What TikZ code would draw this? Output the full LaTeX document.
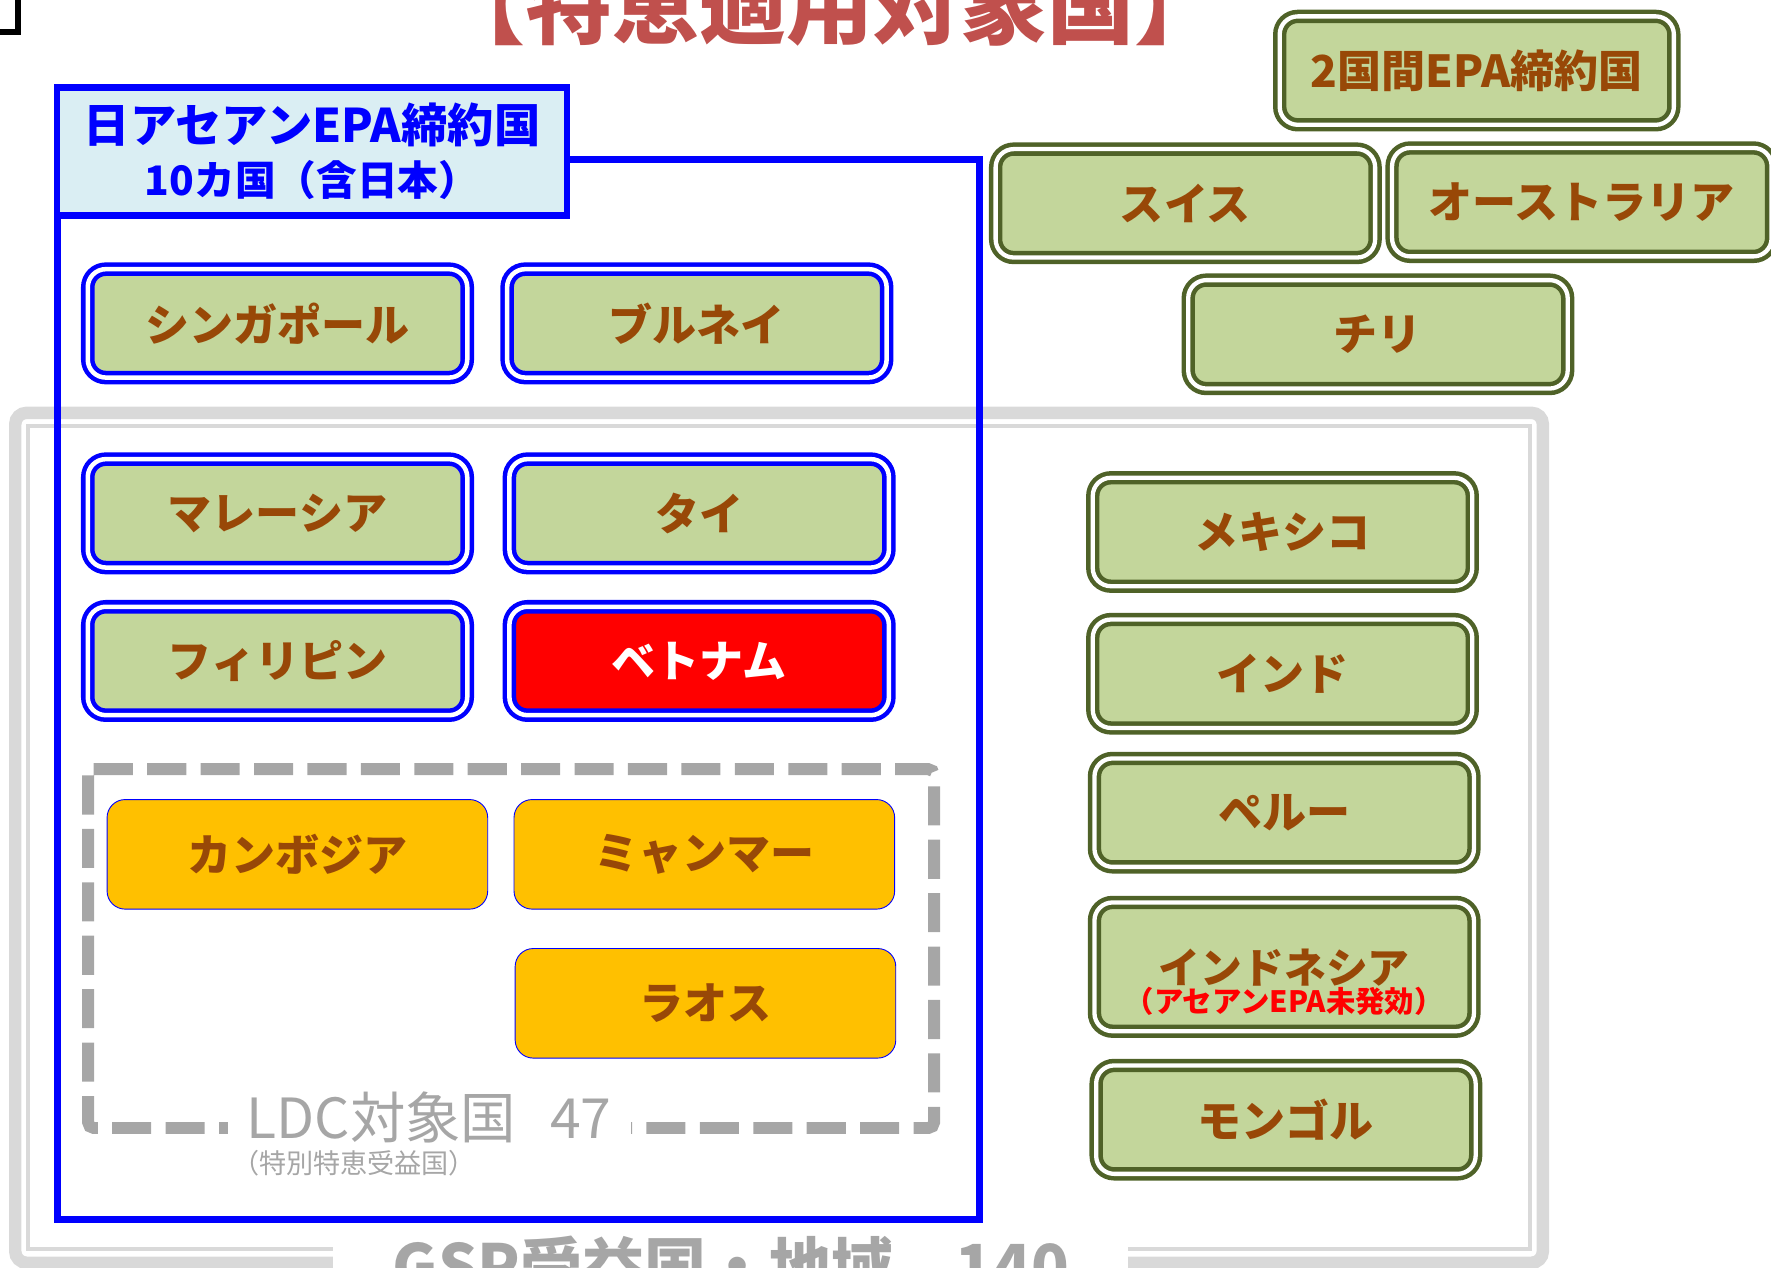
\documentclass[tikz,border=0pt]{standalone}
\usepackage{fontspec}
\setmainfont{Noto Sans CJK JP}
\usepackage{xcolor}
\definecolor{epablue}{HTML}{0000FF}
\definecolor{hdrfill}{HTML}{DAEEF3}
\definecolor{epagreen}{HTML}{C3D69B}
\definecolor{epaolive}{HTML}{4F6228}
\definecolor{cbrown}{HTML}{984807}
\definecolor{ldcorange}{HTML}{FFC000}
\definecolor{ldcgray}{HTML}{A6A6A6}
\definecolor{gspgray}{HTML}{D9D9D9}
\definecolor{ttlred}{HTML}{C0504D}
\newcommand{\fsz}[2]{\fontsize{#1pt}{#2pt}\selectfont}
\tikzset{
  cbox/.style  = {rounded corners=16pt, minimum width=336pt, minimum height=96pt,
                  inner sep=0pt, font=\bfseries\fsz{39}{44}, text=cbrown},
  asean/.style = {cbox, draw=epablue, fill=epagreen, line width=4pt,
                  double=white, double distance=4pt},
  bilat/.style = {cbox, draw=epaolive, fill=epagreen, line width=4pt,
                  double=white, double distance=3.8pt},
  ldc/.style   = {cbox, draw=epablue, fill=ldcorange, line width=0.8pt,
                  minimum width=337pt, minimum height=97pt},
  gtxt/.style  = {text=ldcgray, anchor=base}
}
\begin{document}
\begin{tikzpicture}[x=1pt, y=-1pt]
\useasboundingbox (0,0) rectangle (1568,1122);
\draw[line width=5pt] (0,28.5) -- (16,28.5) -- (16,-3);
\node[font=\bfseries\fsz{77}{90}, text=ttlred, anchor=base, inner sep=0pt] (ttl) at (735,33)
  {【特恵適用対象国】};

% GSP frame
\draw[gspgray, line width=11pt, rounded corners=10pt] (13.5,365.5) rectangle (1366,1118);
\draw[gspgray, line width=3.5pt] (24.5,377) rectangle (1354.5,1106);
\node[gtxt, fill=white, font=\bfseries\fsz{55}{60}, minimum width=704pt, inner ysep=3pt]
  (gsp) at (647,1142) {GSP受益国・地域　140};

% ASEAN frame
\draw[epablue, line width=6pt] (50.8,141) rectangle (867,1079.4);
\node[draw=epablue, line width=6pt, fill=hdrfill, minimum width=451.5pt, minimum height=113.5pt,
  inner sep=0pt, text=epablue, font=\bfseries\fsz{41}{47}, align=center] (hdr) at (276.25,134)
  {日アセアンEPA締約国\\{\fsz{36}{47}10カ国（含日本）}};

\node[asean] (sgp) at (245.7,286.3) {シンガポール};
\node[asean] (brn) at (617,286.3) {ブルネイ};
\node[asean] (mys) at (245.7,454.5) {マレーシア};
\node[asean] (tha) at (619,454.5) {タイ};
\node[asean] (phl) at (245.7,585.2) {フィリピン};
\node[asean, fill=red, text=white] (vnm) at (619,585.2) {ベトナム};

% LDC
\draw[ldcgray, line width=10.5pt, dash pattern=on 34.6pt off 12.7pt, rounded corners=5pt]
  (78,681) -- (827,681) -- (827,998.7) -- (78,998.7) -- cycle;
\node[ldc] (khm) at (263.3,756.4) {カンボジア};
\node[ldc] (mmr) at (623.6,756.4) {ミャンマー};
\node[ldc] (lao) at (624.6,888.3) {ラオス};
\node[gtxt, fill=white, font=\fsz{49}{54}, inner xsep=17pt, inner ysep=2pt] (ldclbl)
  at (380,1008) {LDC対象国\hspace{30pt}47};
\node[gtxt, font=\fsz{24}{28}, inner sep=0pt] (ldcsub) at (313.5,1039) {（特別特恵受益国）};

% bilateral EPA
\node[bilat, minimum width=349pt] (bil) at (1307.5,62.5) {2国間EPA締約国};
\node[bilat] (che) at (1049.5,180) {スイス};
\node[bilat] (aus) at (1400.5,179) {オーストラリア};
\node[bilat] (chl) at (1220,296) {チリ};
\node[bilat] (mex) at (1135.5,471) {メキシコ};
\node[bilat] (ind) at (1135.5,596.5) {インド};
\node[bilat] (per) at (1137,719.5) {ペルー};
\node[bilat, minimum height=114pt, align=center, font=\bfseries\fsz{37}{25}] (idn) at (1137,856)
  {\rule{0pt}{58pt}インドネシア\\{\color{red}\fsz{26}{25}（アセアンEPA未発効）}};
\node[bilat] (mng) at (1138.5,991.3) {モンゴル};
\end{tikzpicture}
\end{document}
